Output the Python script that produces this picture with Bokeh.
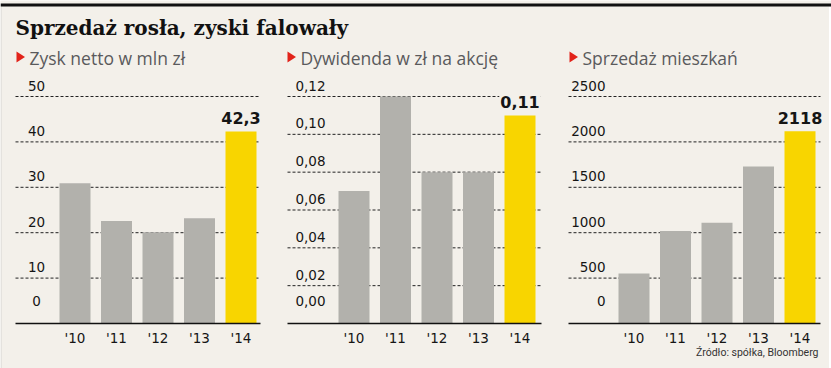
from bokeh.plotting import figure
from bokeh.models import Range1d, ColumnDataSource
from bokeh.core.properties import value
from bokeh.embed import file_html
from bokeh.resources import INLINE

# ---------------- data ----------------
title_text = "Sprzedaż rosła, zyski falowały"
source_text = "Źródło: spółka, Bloomberg"
years = ["'10", "'11", "'12", "'13", "'14"]

zysk_title = "Zysk netto w mln zł"
zysk = [30.9, 22.6, 20.1, 23.2, 42.3]
zysk_ticks = [0, 10, 20, 30, 40, 50]
zysk_tick_labels = ["0", "10", "20", "30", "40", "50"]
zysk_highlight = "42,3"

dyw_title = "Dywidenda w zł na akcję"
dywidenda = [0.07, 0.12, 0.08, 0.08, 0.11]
dyw_ticks = [0, 0.02, 0.04, 0.06, 0.08, 0.10, 0.12]
dyw_tick_labels = ["0,00", "0,02", "0,04", "0,06", "0,08", "0,10", "0,12"]
dyw_highlight = "0,11"

sprz_title = "Sprzedaż mieszkań"
sprzedaz = [550, 1020, 1110, 1730, 2118]
sprz_ticks = [0, 500, 1000, 1500, 2000, 2500]
sprz_tick_labels = ["0", "500", "1000", "1500", "2000", "2500"]
sprz_highlight = "2118"

# ---------------- style / layout ----------------
W, H = 831, 368
BG = "#f3f0ea"
GRAY = "#b2b1ac"
YELLOW = "#f8d500"
RED = "#e2231a"
DARK = "#151515"
SUB = "#5a5a5c"
PITCH = 41.5
BAR_W = 31 / PITCH
BASE_Y = 323   # pixel y of zero line
TOP_Y = 96     # pixel y of top gridline

panels = [
    dict(title=zysk_title, vals=zysk, ticks=zysk_ticks, labels=zysk_tick_labels, hl=zysk_highlight,
         c0=74.5, grid=(15, 260), lx=36, align="center", tri=16, sub=29),
    dict(title=dyw_title, vals=dywidenda, ticks=dyw_ticks, labels=dyw_tick_labels, hl=dyw_highlight,
         c0=353.5, grid=(287, 541), lx=310, align="center", tri=287, sub=300),
    dict(title=sprz_title, vals=sprzedaz, ticks=sprz_ticks, labels=sprz_tick_labels, hl=sprz_highlight,
         c0=633.5, grid=(568, 820), lx=605, align="right", tri=569, sub=582),
]

p = figure(width=W, height=H, output_backend="svg", toolbar_location=None,
           x_range=Range1d(0, W), y_range=Range1d(H, 0),
           x_axis_location=None, y_axis_location=None, min_border=0)
p.grid.visible = False
p.outline_line_color = None
p.background_fill_color = BG
p.border_fill_color = BG

# frame edges
p.quad(left=[W - 2.5], right=[W], top=[6], bottom=[H], fill_color="#ffffff", line_color=None)
p.quad(left=[0], right=[1.5], top=[6], bottom=[H], fill_color="#e4e2de", line_color=None)
# top rule
p.segment(x0=[0], x1=[W], y0=[4.5], y1=[4.5], line_color="#111111", line_width=3)

# title
p.text(x=[15], y=[27.5], text=[title_text], text_font=value("DejaVu Serif"),
       text_font_style="bold", text_font_size="20px", text_color="#111111",
       text_baseline="middle", text_align="left")

# source
p.text(x=[818], y=[352], text=[source_text], text_font=value("Roboto"),
       text_font_size="10.5px", text_color="#333333",
       text_baseline="middle", text_align="right")

for i, pn in enumerate(panels):
    # subtitle with red triangle
    tx = pn["tri"]
    p.patches(xs=[[tx, tx + 8.5, tx]], ys=[[51, 56.5, 62]],
              fill_color=RED, line_color=None)
    p.text(x=[pn["sub"]], y=[57.5], text=[pn["title"]], text_font=value("Open Sans"),
           text_font_size="17.5px", text_color=SUB, text_baseline="middle", text_align="left")

    ymax = pn["ticks"][-1]
    k = (BASE_Y - TOP_Y) / ymax
    xs = -pn["c0"] / PITCH
    p.extra_x_ranges[f"x{i}"] = Range1d(xs, xs + W / PITCH)
    ys = -(H - BASE_Y) / k
    p.extra_y_ranges[f"y{i}"] = Range1d(ys, ys + H / k)
    kw = dict(x_range_name=f"x{i}", y_range_name=f"y{i}")

    gx0 = (pn["grid"][0] - pn["c0"]) / PITCH
    gx1 = (pn["grid"][1] - pn["c0"]) / PITCH
    gt = [t for t in pn["ticks"] if t != 0]
    p.segment(x0=[gx0] * len(gt), x1=[gx1] * len(gt), y0=gt, y1=gt,
              line_color="#222222", line_width=1, line_dash="3 2", **kw)

    idx = list(range(len(years)))
    colors = [GRAY] * (len(years) - 1) + [YELLOW]
    src = ColumnDataSource(dict(x=idx, top=pn["vals"], color=colors, year=years))
    p.vbar(x="x", top="top", bottom=0, width=BAR_W, fill_color="color", line_color=None,
           source=src, **kw)

    p.segment(x0=[gx0], x1=[gx1], y0=[0], y1=[0], line_color="#111111", line_width=1.5, **kw)

    # y tick labels
    lx = (pn["lx"] - pn["c0"]) / PITCH
    offs = [-23 if t == 0 else -11 for t in pn["ticks"]]
    p.text(x=[lx] * len(pn["ticks"]), y=pn["ticks"], text=pn["labels"], y_offset=offs,
           text_font=value("DejaVu Sans"), text_font_size="13.5px", text_color=DARK,
           text_baseline="middle", text_align=pn["align"], **kw)

    # x category labels
    p.text(x=idx, y=[0] * len(idx), text=years, y_offset=14,
           text_font=value("DejaVu Sans"), text_font_size="13.5px", text_color=DARK,
           text_baseline="middle", text_align="center", **kw)

    # highlighted value
    p.text(x=[idx[-1]], y=[pn["vals"][-1]], text=[pn["hl"]], y_offset=-13,
           text_font=value("DejaVu Sans"), text_font_style="bold", text_font_size="16px",
           text_color=DARK, text_baseline="middle", text_align="center",
           background_fill_color=BG, padding=1, **kw)

open("out.html", "w").write(file_html(p, INLINE))
